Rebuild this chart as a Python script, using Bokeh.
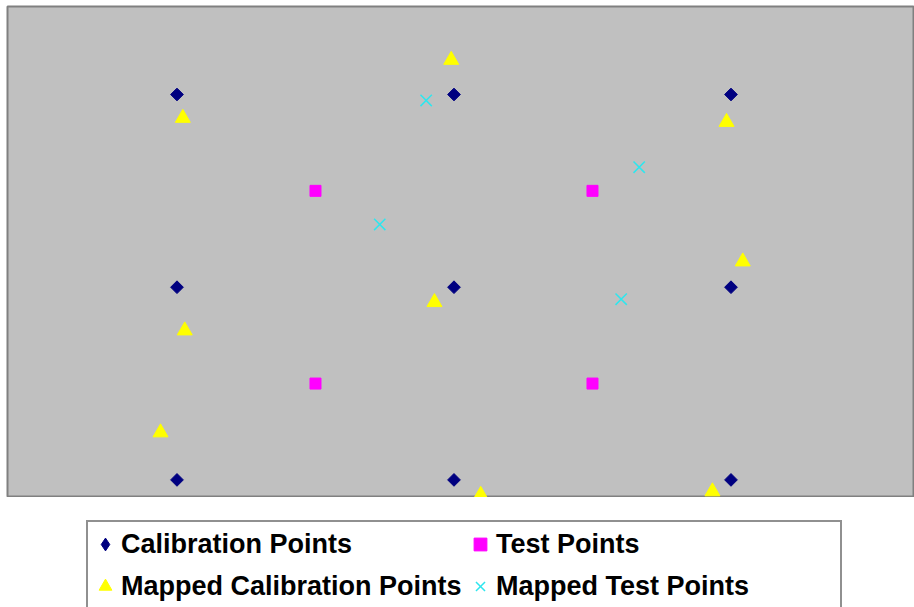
import math
from bokeh.plotting import figure
from bokeh.layouts import column
from bokeh.models import Range1d, Legend, LegendItem
from bokeh.embed import file_html
from bokeh.resources import INLINE

# Calibration grid (3x3) and test points (2x2); y grows downward (screen-like)
cal_x = [1, 3, 5, 1, 3, 5, 1, 3, 5]
cal_y = [1, 1, 1, 3, 3, 3, 5, 5, 5]

test_x = [2, 4, 2, 4]
test_y = [2, 2, 4, 4]

mapped_cal_x = [1.042, 2.980, 4.968, 1.056, 2.859, 5.085, 0.881, 3.193, 4.866]
mapped_cal_y = [1.244, 0.642, 1.286, 3.450, 3.156, 2.734, 4.508, 5.157, 5.120]

mapped_test_x = [2.799, 4.337, 2.464, 4.207]
mapped_test_y = [1.062, 1.755, 2.349, 3.125]

labels = ["Calibration Points", "Test Points",
          "Mapped Calibration Points", "Mapped Test Points"]

styles = [
    dict(marker="square", angle=math.pi / 4, size=9,
         fill_color="#000080", line_color="#000080"),
    dict(marker="square", size=11, fill_color="#FF00FF", line_color="#FF00FF"),
    dict(marker="triangle", size=15, fill_color="#FFFF00", line_color="#FFFF00"),
    dict(marker="x", size=16, line_color="#2EE6EE", line_width=1.5),
]
series = [(cal_x, cal_y), (test_x, test_y),
          (mapped_cal_x, mapped_cal_y), (mapped_test_x, mapped_test_y)]

p = figure(width=914, height=497, output_backend="svg", toolbar_location=None,
           x_range=Range1d(-0.2238, 6.325), y_range=Range1d(5.1826, 0.0867),
           x_axis_location=None, y_axis_location=None,
           min_border_left=7, min_border_right=0, min_border_top=6,
           min_border_bottom=0)
p.xgrid.visible = False
p.ygrid.visible = False
p.background_fill_color = "#C0C0C0"
p.border_fill_color = "white"
p.outline_line_color = "#808080"
p.outline_line_width = 2

for (xs, ys), s in zip(series, styles):
    p.scatter(xs, ys, **s)

# legend strip below the plot area (its own renderers lie outside its view)
q = figure(width=914, height=110, output_backend="svg", toolbar_location=None,
           x_range=Range1d(-3, -2), y_range=Range1d(-3, -2),
           x_axis_location=None, y_axis_location=None,
           min_border_left=0, min_border_right=0, min_border_top=0,
           min_border_bottom=0)
q.xgrid.visible = False
q.ygrid.visible = False
q.outline_line_color = None
q.background_fill_color = "white"
q.border_fill_color = "white"

legend_styles = [dict(s) for s in styles]
legend_styles[0] = dict(marker="diamond", fill_color="#000080", line_color="#000080")
legend_renderers = [q.scatter(xs, ys, **s) for (xs, ys), s in zip(series, legend_styles)]

# column-major order: column 1 = Calibration / Mapped Calibration
order = [0, 2, 1, 3]
legend = Legend(
    items=[LegendItem(label=labels[i], renderers=[legend_renderers[i]]) for i in order],
    ncols=2,
    location=(79, -3),
    label_text_font="Liberation Sans", label_text_font_style="bold",
    label_text_font_size="27px", label_text_color="black",
    glyph_width=32, glyph_height=32, label_standoff=0,
    label_width=343, label_height=42, spacing=0, padding=1, margin=0,
    border_line_color="#222222", border_line_width=2,
    background_fill_color="white", background_fill_alpha=1.0,
)
q.add_layout(legend, "center")

layout = column(p, q, spacing=0)
open("out.html", "w").write(file_html(layout, INLINE))
